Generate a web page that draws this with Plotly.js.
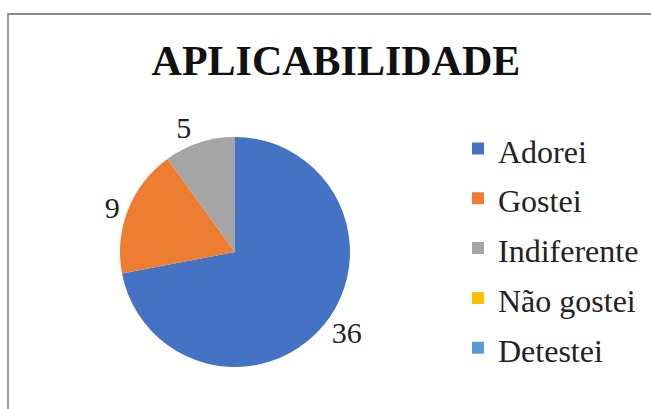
<!DOCTYPE html>
<html>
<head>
<meta charset="utf-8">
<script src="https://cdn.plot.ly/plotly-3.0.1.min.js"></script>
<style>
  body { margin: 0; background: #fff; }
  #frame { position: absolute; left: 7px; top: 13px; width: 700px; height: 450px;
           border-top: 2px solid #8a8a8a; border-left: 2px solid #9a9a9a; }
  #chart { position: absolute; left: 0; top: 0; width: 651px; height: 409px; }
</style>
</head>
<body>
<div id="frame"></div>
<div id="chart"></div>
<script>
// respostas sobre aplicabilidade
const labels = ['Adorei', 'Gostei', 'Indiferente', 'Não gostei', 'Detestei'];
const values = [36, 9, 5, 0, 0];
const colors = ['#4472C4', '#ED7D31', '#A5A5A5', '#FFC000', '#5B9BD5'];

const serif = 'Liberation Serif';

var pie = {
    type: 'pie',
    labels: labels.map(l => '<span style="font-size:32px">' + l + '</span>'),
    values: values,
    text: values.map(v => v ? String(v) : ''),
    textinfo: 'text',
    textposition: 'outside',
    textfont: {family: serif, size: 30, color: '#222'},
    marker: {colors: colors, line: {width: 0}},
    sort: false,
    direction: 'clockwise',
    rotation: 0,
    domain: {x: [0.1843, 0.5376], y: [0, 1]},
    hoverinfo: 'label+value'
};

var layout = {
    width: 651,
    height: 409,
    margin: {l: 0, r: 0, t: 137, b: 42},
    paper_bgcolor: 'rgba(0,0,0,0)',
    plot_bgcolor: 'rgba(0,0,0,0)',
    font: {family: serif, color: '#222'},
    title: {
        text: '<b>APLICABILIDADE</b>',
        font: {family: serif, size: 42, color: '#111'},
        x: 0.516, xanchor: 'center',
        y: 1 - 60 / 409, yref: 'container', yanchor: 'middle'
    },
    showlegend: true,
    legend: {
        x: 458 / 651, xanchor: 'left',
        y: 0.517, yanchor: 'middle',
        maxheight: 400,
        font: {family: serif, size: 36, color: '#222'},
        bgcolor: 'rgba(0,0,0,0)'
    }
};

Plotly.newPlot('chart', [pie], layout, {displayModeBar: false});
</script>
</body>
</html>
